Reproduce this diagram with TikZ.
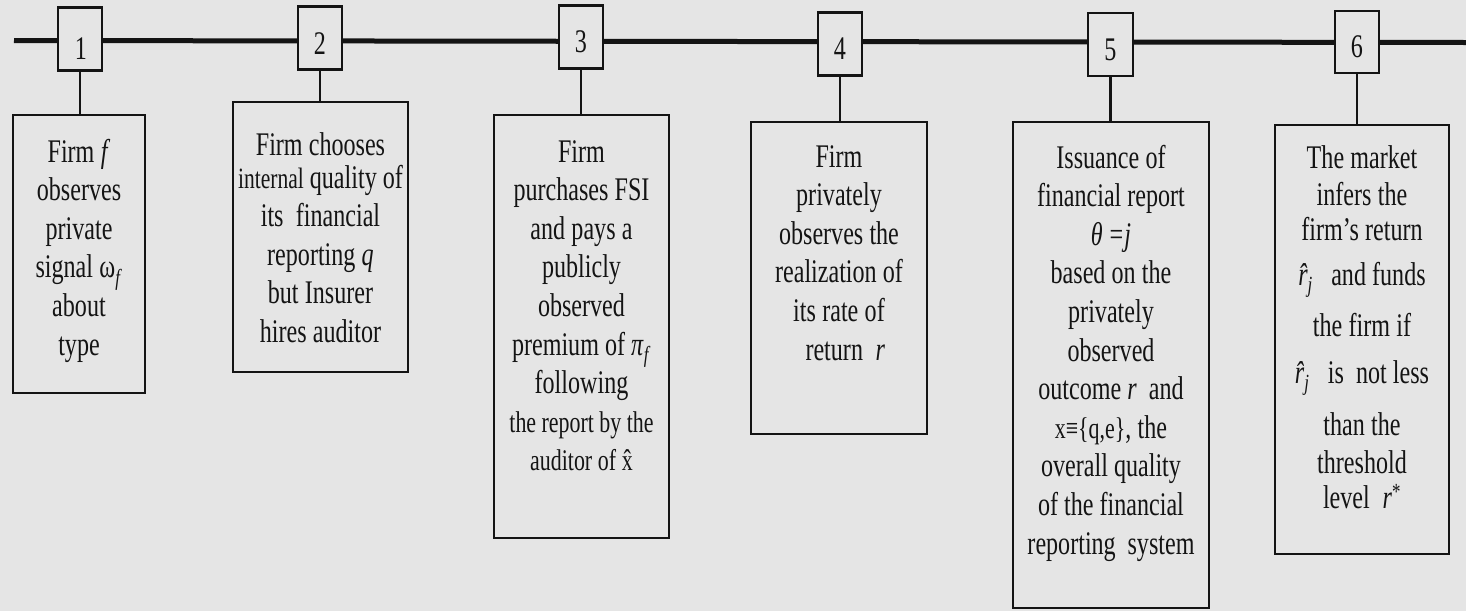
\documentclass[tikz,border=0pt]{standalone}
\usepackage{fontspec}
\setmainfont[FakeStretch=0.73]{Liberation Serif}
\usetikzlibrary{calc}
\definecolor{paper}{RGB}{229,229,229}
\definecolor{ink}{RGB}{20,20,20}
\newcommand{\evfont}{\fontsize{33pt}{38.6pt}\selectfont}
\newcommand{\smallev}{\fontsize{30pt}{38.6pt}\selectfont\spaceskip=0.17em plus 0.02em\relax}
\newcommand{\rhatj}{{\itshape\^{r}}\textsubscript{\itshape j}}

\begin{document}
\begin{tikzpicture}[x=1pt,y=-1pt,
  numbox/.style={draw=ink,line width=2.8pt,fill=paper,inner sep=0pt,
                 minimum width=44pt,minimum height=63pt},
  digit/.style={font=\evfont,inner sep=0pt,text=ink},
  evbox/.style={draw=ink,line width=2.6pt,inner sep=0pt},
  evtext/.style={font=\evfont,text width=230pt,align=center,anchor=base,
                 inner sep=0pt,text=ink,
                 execute at begin node={\spaceskip=0.17em plus 0.02em\relax}},
  tline/.style={draw=ink,line width=5pt},
  link/.style={draw=ink,line width=2.4pt}]

\useasboundingbox[fill=paper] (0,0) rectangle (1466,611);

% time line
\coordinate (tstart) at (14,40.5);
\coordinate (tend) at (1466,42.5);
\draw[tline] (tstart) -- (tend);

% numbered stages on the time line
\node[numbox] (n1) at (80,39) {};
\node[numbox] (n2) at (320,38) {};
\node[numbox] (n3) at (581,37) {};
\node[numbox] (n4) at (840,44) {};
\node[numbox,minimum width=45pt] (n5) at (1110.5,44.5) {};
\node[numbox,minimum height=62pt] (n6) at (1357,42) {};

\node[digit] (d1) at (81,49) {1};
\node[digit] (d2) at (320,43.5) {2};
\node[digit] (d3) at (581,42) {3};
\node[digit] (d4) at (840,48.5) {4};
\node[digit] (d5) at (1110.5,50) {5};
\node[digit] (d6) at (1357,47) {6};

% event boxes
\node[evbox,minimum width=132pt,minimum height=278pt] (e1) at (79,254) {};
\node[evbox,minimum width=175pt,minimum height=270pt] (e2) at (320.5,237) {};
\node[evbox,minimum width=175pt,minimum height=423pt] (e3) at (581.5,326.5) {};
\node[evbox,minimum width=176pt,minimum height=312pt] (e4) at (839,278) {};
\node[evbox,minimum width=196pt,minimum height=486pt] (e5) at (1111,365) {};
\node[evbox,minimum width=174pt,minimum height=429pt] (e6) at (1362,339.5) {};

% links from stages to events
\foreach \i in {1,...,6}
  \draw[link] (n\i.south) -- (n\i.south |- e\i.north);

% event texts
\node[evtext] (t1) at (79,162)
  {Firm \textit{f}\\observes\\private\\signal ω\textsubscript{\textit{f}}\\about\\type};
\node[evtext] (t2) at (320.5,155)
  {Firm chooses\\[-5.5pt]{\fontsize{29.5pt}{38.6pt}\selectfont internal} quality of\\
   its\ \ financial\\reporting \textit{q}\\but Insurer\\hires auditor};
\node[evtext] (t3) at (581.5,162)
  {Firm\\purchases FSI\\and pays a\\publicly\\observed\\
   premium of \textit{π}\textsubscript{\textit{f}}\\following\\
   {\smallev the report by the}\\{\smallev auditor of \^{x}}};
\node[evtext] (t4) at (839,167)
  {Firm\\privately\\observes the\\realization of\\its rate of\\
   \ \ return\ \ \textit{r}};
\node[evtext] (t5) at (1111,168)
  {Issuance of\\financial report\\\textit{θ\,=j}\\based on the\\privately\\
   observed\\outcome \textit{r}\ \ and\\{\smallev x≡\{q,e\}}, the\\
   overall quality\\of the financial\\reporting\ \ system};
\node[evtext] (t6) at (1362,168)
  {The market\\[-1.5pt]infers the\\[-3.5pt]firm’s return\\[6.5pt]
   \rhatj\ \ \ and funds\\[12.5pt]the firm if\\[8.5pt]
   \rhatj\ \ \ is\ \ not less\\[13.5pt]than the\\[-0.5pt]threshold\\[-3.5pt]
   level\ \ \textit{r}\textsuperscript{*}};
\end{tikzpicture}
\end{document}
